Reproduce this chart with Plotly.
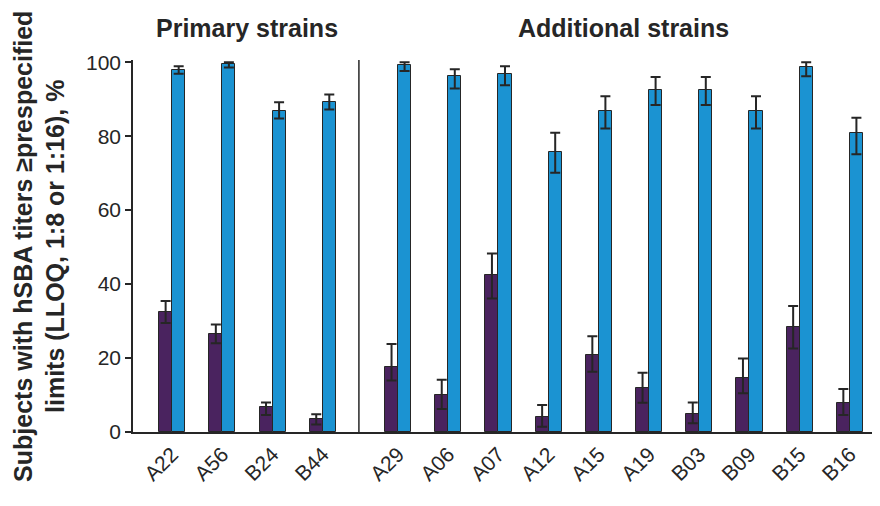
import plotly.graph_objects as go

# ---------------- data ----------------
primary_strains = ["A22", "A56", "B24", "B44"]
additional_strains = ["A29", "A06", "A07", "A12", "A15", "A19", "B03", "B09", "B15", "B16"]
strains = primary_strains + additional_strains

# purple series (lower bars) and 95% CI bounds
pre_pct = [32.5, 26.5, 6.7, 3.5, 17.6, 10.0, 42.5, 4.1, 20.8, 12.0, 4.9, 14.5, 28.5, 7.9]
pre_lo = [29.5, 24.0, 4.6, 2.0, 13.9, 6.2, 36.1, 1.4, 16.3, 7.9, 2.4, 10.5, 22.6, 4.6]
pre_hi = [35.4, 29.1, 8.0, 4.8, 23.8, 14.1, 48.3, 7.3, 25.9, 16.0, 8.0, 19.9, 34.1, 11.6]

# blue series (upper bars) and 95% CI bounds
post_pct = [98.0, 99.6, 86.8, 89.3, 99.3, 96.2, 96.9, 75.8, 86.8, 92.4, 92.4, 86.8, 98.8, 80.9]
post_lo = [96.9, 98.6, 84.8, 87.2, 97.6, 92.9, 93.8, 70.1, 82.1, 88.4, 88.4, 82.1, 96.2, 75.1]
post_hi = [98.9, 100.0, 89.2, 91.3, 100.0, 98.1, 98.9, 80.9, 90.8, 96.0, 96.0, 90.8, 100.0, 85.0]

y_ticks = [0, 20, 40, 60, 80, 100]
group_titles = ["Primary strains", "Additional strains"]

# ---------------- layout helpers ----------------
GROUP_GAP = 0.5
xpos = [i for i in range(len(primary_strains))] + \
       [len(primary_strains) + GROUP_GAP + i for i in range(len(additional_strains))]
divider_x = len(primary_strains) - 1 + (1 + GROUP_GAP) / 2 - 0.03

BAR_W = 0.26
PURPLE = "#4a235f"
BLUE = "#1b93d2"
EDGE = "#262626"
FONT = "Liberation Sans, Arial, sans-serif"

fig = go.Figure()

fig.add_trace(go.Bar(
    x=[p - BAR_W / 2 for p in xpos], y=pre_pct, width=BAR_W,
    marker=dict(color=PURPLE, line=dict(color=EDGE, width=1)),
    error_y=dict(type="data", symmetric=False,
                 array=[h - v for h, v in zip(pre_hi, pre_pct)],
                 arrayminus=[v - l for v, l in zip(pre_pct, pre_lo)],
                 color=EDGE, thickness=2, width=5),
    showlegend=False,
))
fig.add_trace(go.Bar(
    x=[p + BAR_W / 2 for p in xpos], y=post_pct, width=BAR_W,
    marker=dict(color=BLUE, line=dict(color=EDGE, width=1)),
    error_y=dict(type="data", symmetric=False,
                 array=[h - v for h, v in zip(post_hi, post_pct)],
                 arrayminus=[v - l for v, l in zip(post_pct, post_lo)],
                 color=EDGE, thickness=2, width=5),
    showlegend=False,
))

fig.add_shape(type="line", xref="x", yref="y",
              x0=divider_x, x1=divider_x, y0=0, y1=100.6,
              line=dict(color=EDGE, width=1.5))

prim_center = (xpos[0] + xpos[len(primary_strains) - 1]) / 2
add_center = (xpos[len(primary_strains)] + xpos[-1]) / 2
for cx, txt in zip([prim_center, add_center], group_titles):
    fig.add_annotation(x=cx, xref="x", y=1.086, yref="paper",
                       text="<b>%s</b>" % txt, showarrow=False,
                       xanchor="center", yanchor="middle",
                       font=dict(family=FONT, size=25, color="#262626"))

fig.add_annotation(x=-0.126, xref="paper", y=0.5, yref="paper",
                   text="<b>Subjects with hSBA titers ≥prespecified<br>limits (LLOQ, 1:8 or 1:16), %</b>",
                   textangle=-90, showarrow=False, xanchor="center", yanchor="middle",
                   font=dict(family=FONT, size=25, color="#262626"))

fig.update_layout(
    width=872, height=498,
    margin=dict(l=125, r=0, t=52, b=74),
    paper_bgcolor="white", plot_bgcolor="white",
    bargap=0,
    xaxis=dict(range=[-0.78, 14.1], tickvals=xpos, ticktext=strains,
               tickangle=-45, ticks="", showline=True, linecolor=EDGE, linewidth=1.5,
               showgrid=False, zeroline=False,
               tickfont=dict(family=FONT, size=21, color="#262626")),
    yaxis=dict(range=[0, 100.6], tickvals=y_ticks, ticks="outside", ticklen=6,
               tickcolor=EDGE, tickwidth=1.5, showline=True, linecolor=EDGE, linewidth=1.5,
               showgrid=False, zeroline=False,
               tickfont=dict(family=FONT, size=21, color="#262626")),
)

fig.write_html("out.html")
